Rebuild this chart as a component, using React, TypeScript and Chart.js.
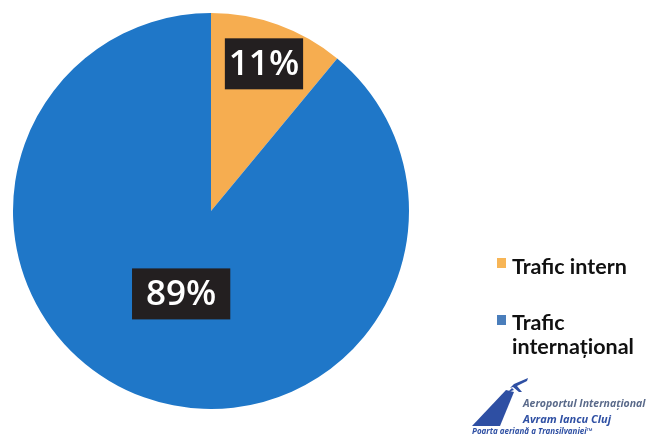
import React, { useEffect, useRef } from "react";
import { Chart, registerables } from "chart.js";

Chart.register(...registerables);

const categories = ["Trafic intern", "Trafic internațional"];
const shares = [11, 89];
const valueLabels = ["11%", "89%"];

const sliceColors = ["#F6AD50", "#1F77C8"];
const legendColors = ["#F7B556", "#4A7EBB"];
const labelRadiusFrac = [0.79, 0.445];
const labelPadX = [4, 14];

const labelPlugin = {
  id: "boxLabels",
  afterDatasetsDraw(chart: any) {
    const ctx = chart.ctx;
    const meta = chart.getDatasetMeta(0);
    ctx.save();
    ctx.font = "600 35px 'Open Sans'";
    ctx.textAlign = "center";
    ctx.textBaseline = "middle";
    meta.data.forEach((arc: any, i: number) => {
      const { x, y, startAngle, endAngle, outerRadius } = arc.getProps(
        ["x", "y", "startAngle", "endAngle", "outerRadius"],
        true
      );
      const mid = (startAngle + endAngle) / 2;
      const r = outerRadius * labelRadiusFrac[i];
      const cx = x + Math.cos(mid) * r;
      const cy = y + Math.sin(mid) * r;
      const text = valueLabels[i];
      const w = ctx.measureText(text).width + labelPadX[i] * 2;
      const h = 51;
      ctx.fillStyle = "#231F20";
      ctx.fillRect(cx - w / 2, cy - h / 2, w, h);
      ctx.fillStyle = "#FFFFFF";
      ctx.fillText(text, cx, cy + 1);
    });
    ctx.restore();
  },
};

export default function App() {
  const ref = useRef<HTMLCanvasElement>(null);
  useEffect(() => {
    if (!ref.current) return;
    const chart = new Chart(ref.current, {
      type: "pie",
      data: {
        labels: categories,
        datasets: [
          {
            data: shares,
            backgroundColor: sliceColors,
            borderWidth: 0,
          },
        ],
      },
      options: {
        animation: false,
        responsive: false,
        layout: { padding: { left: 13, top: 12, right: 247, bottom: 26 } },
        plugins: {
          legend: { display: false },
          tooltip: { enabled: false },
        },
      },
      plugins: [labelPlugin],
    });
    return () => chart.destroy();
  }, []);

  const legendText: React.CSSProperties = {
    fontFamily: "Lato, 'Open Sans', sans-serif",
    fontWeight: 700,
    fontSize: 21.5,
    color: "#111",
    lineHeight: "24px",
  };

  return (
    <div
      style={{
        position: "absolute",
        left: 0,
        top: 0,
        width: 656,
        height: 436,
        background: "#fff",
        overflow: "hidden",
      }}
    >
      <canvas ref={ref} width={656} height={436} />
      <div style={{ position: "absolute", left: 497, top: 258, width: 9, height: 10, background: legendColors[0] }} />
      <div style={{ ...legendText, position: "absolute", left: 512, top: 254 }}>{categories[0]}</div>
      <div style={{ position: "absolute", left: 497, top: 315, width: 9, height: 10, background: legendColors[1] }} />
      <div style={{ ...legendText, position: "absolute", left: 512, top: 310, width: 144 }}>
        Trafic
        <br />
        internațional
      </div>
      <svg
        style={{ position: "absolute", left: 470, top: 374 }}
        width={60}
        height={62}
        viewBox="0 0 60 62"
      >
        <path d="M2 52 L36 16 L44 18 L30 52 Z" fill="#2E4FA3" />
        <path d="M38 18 L42 14 L44 16 Z" fill="#2E4FA3" />
        <path d="M44 10 L58 4 L57 7 L47 12 L52 18 L49 18 L43 13 L40 14 Z" fill="#2E4FA3" />
      </svg>
      <div
        style={{
          position: "absolute",
          left: 523,
          top: 396,
          fontFamily: "'Open Sans', sans-serif",
          fontStyle: "italic",
          fontWeight: 700,
          fontSize: 10.5,
          color: "#5A6A8A",
          whiteSpace: "nowrap",
        }}
      >
        Aeroportul Internațional
      </div>
      <div
        style={{
          position: "absolute",
          left: 523,
          top: 411,
          fontFamily: "'Open Sans', sans-serif",
          fontStyle: "italic",
          fontWeight: 700,
          fontSize: 11,
          color: "#2E4FA3",
          whiteSpace: "nowrap",
        }}
      >
        Avram Iancu Cluj
      </div>
      <div
        style={{
          position: "absolute",
          left: 472,
          top: 425,
          fontFamily: "'Open Sans', sans-serif",
          fontStyle: "italic",
          fontWeight: 700,
          fontSize: 8,
          color: "#2E4FA3",
          whiteSpace: "nowrap",
        }}
      >
        Poarta aeriană a Transilvaniei™
      </div>
    </div>
  );
}
